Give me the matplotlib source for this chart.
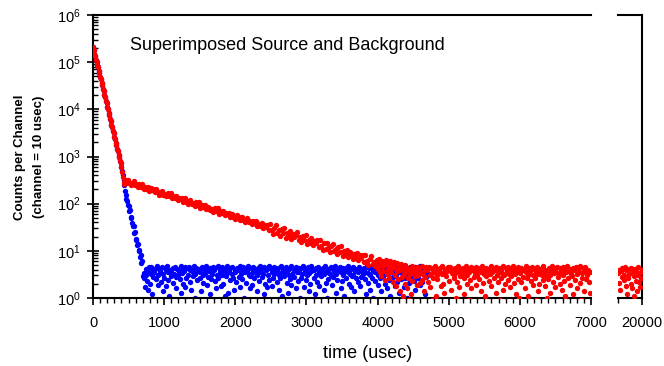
import numpy as np
import matplotlib
matplotlib.use('Agg')
import matplotlib.pyplot as plt
from matplotlib.ticker import FuncFormatter, LogLocator, MultipleLocator, FixedLocator, NullFormatter

plt.rcParams['font.family'] = ['Liberation Sans', 'DejaVu Sans']
plt.rcParams['mathtext.default'] = 'regular'

# ---------------- data (counts per 10-usec channel) ----------------
# fast decay, shared by both spectra, t = 0 .. 400 usec (every 10 usec)
fast_counts = [205000, 184000, 151000, 138000, 113000, 103000, 85000, 77800, 63500, 58000,
               47600, 43500, 35400, 32600, 26500, 24300, 19800, 18200, 14800, 13600,
               11000, 10200, 8300, 7600, 6150, 5680, 4620, 4250, 3440, 3170,
               2580, 2370, 1930, 1770, 1440, 1320, 1080, 990, 805, 740, 600]
fast_start = 0

# red (source + background) knee, t = 410 .. 440
red_knee = [470, 360, 285, 262]
red_knee_start = 410

# blue fast tail, t = 410 .. 690
blue_tail = [500, 410, 320, 250, 185, 150, 128, 112, 96, 90, 70, 72, 52, 50, 38, 34, 33, 24, 25, 18,
             17, 13, 14, 10.5, 9.8, 7.5, 8.2, 5.6, 6.0]
blue_tail_start = 410

# red slow component, t = 450 .. 3990 (every 20 usec)
red_slow = [320, 274, 318, 274, 246, 281, 296, 245, 255, 225, 260, 231, 260, 203, 227, 206, 229, 190, 211, 194,
            204, 175, 202, 174, 156, 179, 188, 156, 163, 143, 165, 147, 165, 129, 144, 132, 146, 121, 134, 124,
            129, 111, 129, 111, 99, 113, 120, 99, 103, 91, 106, 94, 106, 82, 92, 84, 93, 77, 86, 79,
            74, 77, 68, 79, 70, 79, 61, 69, 62, 69, 57, 64, 59, 62, 53, 61, 53, 47, 54, 57,
            53, 45, 52, 45, 40, 46, 49, 40, 42, 37, 43, 38, 43, 33, 37, 34, 38, 31, 35, 32,
            36, 27, 37, 28, 23, 30, 35, 24, 27, 21, 29, 24, 31, 19, 24, 21, 26, 18, 23, 20,
            21.7, 24.6, 17.3, 19.2, 15.3, 21.1, 16.9, 22.0, 13.8, 17.2, 14.8, 18.7, 13.1, 16.5, 14.4, 16.6, 12.1, 16.8, 12.7, 10.6,
            14.7, 10.8, 14.9, 11.3, 9.4, 12.4, 14.0, 9.9, 10.9, 8.7, 11.9, 9.6, 12.5, 7.8, 9.8, 8.4, 10.6, 7.4, 9.4, 8.1,
            6.7, 8.4, 7.2, 9.2, 6.4, 8.0, 7.0, 8.1, 5.8, 8.2, 6.1, 5.1, 6.7, 7.6, 5.3, 5.9, 4.7, 6.4]
red_slow_start = 450
red_slow_step = 20

# blue background, t = 700 .. 4690
blue_bg = [2.9, 3.4, 2.6, 1.7, 3.1, 4.2, 2.3, 1.5, 3.8, 4.5, 2.0, 3.3, 4.6, 1.2, 2.8, 4.0, 3.6, 0.7, 4.4, 2.5,
           4.7, 3.0, 1.9, 4.1, 3.7, 2.2, 0.5, 4.5, 3.2, 1.4, 2.7, 4.3, 3.9, 1.8, 4.8, 2.4, 3.5, 1.1, 4.0, 2.9,
           3.6, 0.8, 4.4, 2.1, 3.3, 4.6, 1.6, 2.8, 4.2, 3.0, 0.4, 3.8, 2.5, 4.7, 1.3, 3.4, 4.1, 2.0, 3.7, 4.5,
           1.7, 2.6, 4.3, 3.1, 0.9, 4.6, 2.2, 3.9, 1.5, 4.0, 3.5, 2.9, 4.8, 1.0, 3.2, 4.4, 2.4, 0.6, 3.8, 4.2,
           2.7, 3.6, 1.4, 4.5, 3.0, 2.1, 4.1, 0.7, 3.4, 4.7, 1.9, 2.8, 4.0, 3.7, 1.2, 4.3, 2.5, 3.3, 4.6, 0.5,
           3.9, 2.3, 4.4, 1.6, 3.1, 4.8, 2.6, 0.8, 3.5, 4.2, 1.8, 3.0, 4.5, 2.0, 3.8, 1.1, 4.1, 2.9, 3.4, 4.7,
           1.3, 3.7, 2.4, 4.3, 0.6, 3.2, 4.6, 2.7, 1.5, 4.0, 3.6, 2.2, 4.4, 0.9, 3.9, 2.8, 4.8, 1.7, 3.3, 4.1,
           2.5, 4.5, 1.0, 3.5, 4.2, 2.1, 3.8, 0.4, 4.7, 3.0, 1.6, 2.9, 4.3, 3.4, 1.9, 4.6, 2.6, 3.7, 0.7, 4.0,
           3.1, 1.4, 4.4, 2.3, 3.6, 4.8, 0.9, 2.8, 4.1, 3.3, 1.2, 4.5, 2.0, 3.9, 4.2, 1.7, 3.0, 4.7, 2.4, 0.6,
           4.3, 3.5, 1.8, 2.7, 4.6, 3.2, 0.5, 4.0, 2.2, 3.8, 4.4, 1.5, 3.1, 2.6, 4.8, 1.1, 3.6, 4.1, 2.9, 3.4,
           0.8, 4.5, 2.1, 3.7, 1.3, 4.2, 3.0, 2.5, 4.7, 1.9, 3.3, 0.6, 4.0, 2.8, 3.9, 4.6, 1.6, 3.5, 2.3, 4.3,
           3.6, 1.0, 4.4, 2.7, 3.2, 4.8, 1.7, 0.9, 3.8, 4.1, 2.4, 3.0, 4.5, 1.4, 3.4, 2.0, 4.7, 3.7, 0.5, 4.2,
           2.6, 3.9, 1.2, 4.3, 3.1, 2.2, 4.6, 1.8, 3.5, 0.7, 4.0, 2.9, 3.6, 4.4, 1.5, 3.3, 4.8, 2.1, 3.8, 1.0,
           4.1, 2.5, 3.4, 0.6, 4.5, 3.0, 1.9, 4.2, 2.8, 3.7, 4.7, 1.3, 3.2, 2.4, 4.0, 0.8, 3.9, 4.6, 1.6, 3.5,
           2.3, 4.4, 3.1, 1.1, 3.8, 4.3, 2.7, 0.5, 3.6, 4.8, 2.0, 3.3, 1.7, 4.1, 2.9, 3.0, 4.5, 1.4, 3.7, 2.6,
           4.2, 0.9, 3.5, 2.2, 4.6, 3.9, 1.8, 2.8, 4.0, 3.2, 0.7, 4.4, 2.5, 3.6, 1.2, 4.7, 3.4, 2.1, 4.3, 1.5,
           3.0, 4.5, 2.7, 1.0, 3.8, 4.1, 2.3, 3.5, 0.6, 4.8, 1.9, 3.1, 4.4, 2.6, 3.7, 1.4, 4.2, 2.9, 0.8, 3.3,
           4.6, 2.0, 3.9, 1.6, 4.0, 3.2, 2.4, 4.7, 1.1, 3.6, 4.3, 0.5, 2.8, 3.4, 4.5, 1.8, 3.0, 4.1, 2.2, 3.8,
           1.3, 4.4, 3.5, 2.5, 0.9, 4.2, 3.1, 1.7, 4.8, 2.7, 3.7, 4.0, 1.0, 3.3, 2.1, 4.6, 3.9, 0.7, 2.9, 4.3,
           3.6, 2.3, 4.5, 1.5, 3.2, 4.1, 0.8, 2.6, 3.8, 4.7, 1.9, 3.4, 2.2, 4.0, 0.6, 3.0, 4.4, 1.2, 2.8, 3.5]
blue_bg_start = 700

# red late channels (decay tail merging into background), t = 4000 .. 6990
red_bg = [5.6, 4.2, 6.8, 3.5, 5.1, 2.9, 6.2, 4.7, 3.8, 5.9, 2.4, 4.9, 6.5, 3.2, 5.3, 4.0, 2.7, 6.0, 4.5, 3.6,
          5.0, 2.2, 4.6, 5.8, 3.0, 4.3, 1.8, 5.4, 3.7, 2.5, 4.8, 1.4, 3.9, 5.2, 2.8, 4.1, 1.1, 3.3, 4.9, 2.0,
          3.7, 1.6, 4.4, 2.6, 0.9, 4.0, 3.2, 1.2, 4.7, 2.3, 3.8, 0.6, 4.2, 2.9, 3.5, 4.6, 1.9, 3.0, 4.3, 2.1,
          0.7, 3.6, 4.8, 2.4, 3.3, 1.4, 4.1, 2.8, 4.5, 0.5, 3.9, 2.2, 4.6, 3.1, 1.7, 4.3, 3.4, 0.9, 2.7, 4.0,
          3.5, 4.7, 1.1, 3.0, 2.5, 4.2, 3.8, 0.6, 4.4, 1.8, 3.2, 4.8, 2.0, 3.6, 1.3, 4.1, 2.9, 3.7, 0.8, 4.5,
          2.3, 3.9, 4.6, 1.5, 3.4, 0.5, 4.0, 2.7, 3.1, 4.3, 1.0, 3.6, 2.2, 4.7, 3.8, 1.7, 2.9, 4.2, 0.7, 3.3,
          4.4, 2.6, 1.2, 3.7, 4.8, 2.0, 3.0, 4.1, 0.9, 3.5, 2.4, 4.5, 1.6, 3.9, 4.2, 0.6, 2.8, 3.4, 4.6, 1.9,
          3.1, 4.0, 2.5, 0.8, 4.3, 3.6, 1.4, 4.7, 2.1, 3.8, 3.2, 1.1, 4.4, 2.9, 0.5, 3.7, 4.1, 2.3, 3.3, 4.8,
          1.8, 3.5, 4.2, 2.7, 0.7, 3.9, 4.6, 1.3, 3.0, 2.2, 4.4, 3.6, 0.9, 4.0, 2.6, 3.4, 1.5, 4.7, 3.1, 2.0,
          4.3, 0.6, 3.8, 2.4, 4.5, 3.2, 1.7, 4.1, 2.9, 0.8, 3.6, 4.8, 2.1, 3.3, 1.2, 4.2, 3.7, 2.5, 4.6, 1.0,
          3.4, 4.4, 2.2, 3.9, 0.5, 2.8, 4.0, 1.6, 3.5, 4.7, 2.6, 3.0, 1.1, 4.3, 3.7, 0.7, 2.3, 4.5, 3.1, 1.9,
          4.1, 2.7, 3.6, 0.9, 4.6, 3.3, 1.4, 2.0, 4.2, 3.8, 0.6, 3.0, 4.8, 2.4, 3.5, 1.8, 4.0, 2.9, 1.0, 3.7,
          2.5, 4.4, 3.1, 1.3, 3.9, 4.7, 0.8, 2.2, 3.4, 4.1, 1.7, 3.6, 4.5, 2.8, 0.5, 3.2, 4.3, 2.0, 3.8, 1.5,
          4.6, 3.0, 2.3, 4.0, 1.1, 3.5, 4.8, 2.6, 0.7, 3.7, 4.2, 1.9, 3.3, 2.9, 4.4, 1.2, 3.9, 0.6, 2.4, 4.5,
          3.2, 1.6, 4.1, 3.6, 2.1, 4.7, 0.9, 3.4, 2.7, 4.3, 1.4, 3.8, 4.6, 2.5, 3.0, 0.8, 4.0, 2.2, 3.5, 1.3]
red_bg_start = 4000

# red channels at the far end of the range, t = 19660 .. 20000
red_far = [3.4, 2.1, 4.0, 1.5, 3.7, 2.8, 4.3, 0.8, 3.1, 2.4, 4.5, 1.8, 3.9, 1.2, 2.6, 4.1, 3.3, 0.6,
           2.0, 4.4, 1.6, 3.6, 2.9, 1.1, 4.2, 2.3, 3.8, 1.4, 3.0, 4.6, 2.2, 1.7, 3.5, 2.7, 4.0]
red_far_start = 19660

CH = 10  # usec per channel


def times(start, n, step=CH):
    return start + step * np.arange(n)


t_fast = times(fast_start, len(fast_counts))
blue_t = np.concatenate([t_fast, times(blue_tail_start, len(blue_tail)),
                         times(blue_bg_start, len(blue_bg))])
blue_y = np.concatenate([fast_counts, blue_tail, blue_bg])
red_t = np.concatenate([t_fast, times(red_knee_start, len(red_knee)),
                        times(red_slow_start, len(red_slow), red_slow_step),
                        times(red_bg_start, len(red_bg))])
red_y = np.concatenate([fast_counts, red_knee, red_slow, red_bg])
far_t = times(red_far_start, len(red_far))

# ---------------- figure ----------------
fig = plt.figure(figsize=(6.64, 3.66), dpi=100)
bot = (366 - 298) / 366
hgt = (298 - 15) / 366
ax1 = fig.add_axes([93 / 664, bot, 498 / 664, hgt])
ax2 = fig.add_axes([618 / 664, bot, 24 / 664, hgt])

RED = '#ff0000'
BLUE = '#0000ff'
ms = 15
ax1.scatter(blue_t, blue_y, s=ms, c=BLUE, linewidths=0, zorder=2)
ax1.scatter(red_t, red_y, s=ms, c=RED, linewidths=0, zorder=3)
ax2.scatter(far_t, red_far, s=ms, c=RED, linewidths=0, zorder=3)

for ax in (ax1, ax2):
    ax.set_yscale('log')
    ax.set_ylim(1, 1e6)
    for sp in ax.spines.values():
        sp.set_linewidth(1.5)

ax1.set_xlim(0, 7000)
ax2.set_xlim(19660, 20000)
ax1.spines['right'].set_visible(False)
ax2.spines['left'].set_visible(False)

ax1.yaxis.set_major_locator(LogLocator(base=10, numticks=10))
ax1.yaxis.set_minor_locator(LogLocator(base=10, subs=np.arange(2, 10), numticks=20))
ax1.yaxis.set_major_formatter(FuncFormatter(lambda v, p: r'$10^{%d}$' % round(np.log10(v))))
ax1.yaxis.set_minor_formatter(NullFormatter())
ax1.tick_params(axis='y', which='major', direction='inout', length=8, width=1.2, labelsize=10.5, pad=5)
ax1.tick_params(axis='y', which='minor', direction='in', length=3.5, width=1)

ax1.xaxis.set_major_locator(MultipleLocator(1000))
ax1.xaxis.set_minor_locator(MultipleLocator(100))
ax1.tick_params(axis='x', which='major', direction='out', length=5, width=1.2, labelsize=10.5, pad=8)
ax1.tick_params(axis='x', which='minor', direction='out', length=3.5, width=1)

ax2.tick_params(axis='y', which='both', left=False, right=False, labelleft=False, labelright=False)
ax2.xaxis.set_major_locator(FixedLocator([20000]))
ax2.xaxis.set_minor_locator(FixedLocator([19660]))
ax2.xaxis.set_major_formatter(FuncFormatter(lambda v, p: '%d' % v))
ax2.tick_params(axis='x', which='major', direction='out', length=5, width=1.2, labelsize=10.5, pad=8)
ax2.tick_params(axis='x', which='minor', direction='out', length=3.5, width=1)

fig.text(130 / 664, (366 - 50) / 366, 'Superimposed Source and Background',
         fontsize=13, ha='left', va='baseline')
fig.text(367.5 / 664, (366 - 353) / 366, 'time (usec)', fontsize=13, ha='center', va='center')
yc = (366 - 157) / 366
fig.text(20 / 664, yc, 'Counts per Channel', rotation=90, fontsize=9.5, fontweight='bold',
         ha='center', va='center')
fig.text(39 / 664, yc, '(channel = 10 usec)', rotation=90, fontsize=9.5, fontweight='bold',
         ha='center', va='center')

fig.savefig('out.png', dpi=100)
